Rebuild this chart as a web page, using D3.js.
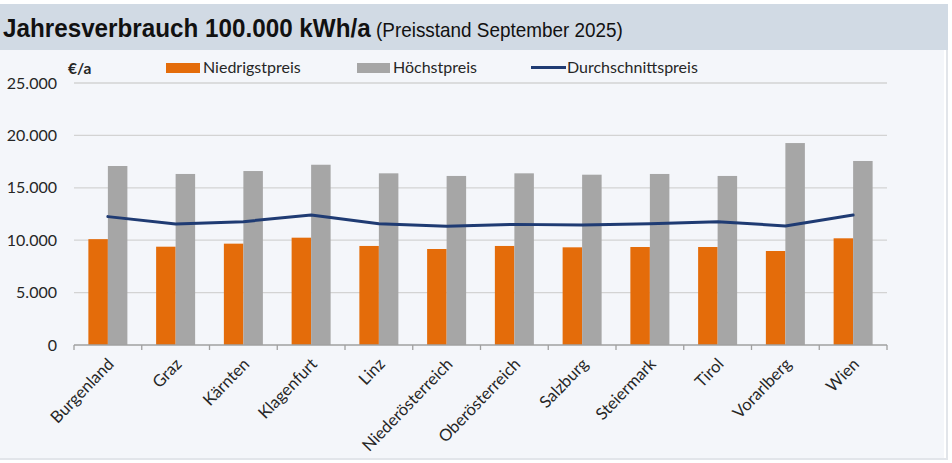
<!DOCTYPE html>
<html><head><meta charset="utf-8">
<script src="https://cdn.jsdelivr.net/npm/d3@7"></script>
<style>html,body{margin:0;padding:0;background:#fff;}svg{display:block;}</style>
</head><body>
<svg id="c" width="952" height="463"></svg>
<script>
const categories = ["Burgenland","Graz","Kärnten","Klagenfurt","Linz","Niederösterreich","Oberösterreich","Salzburg","Steiermark","Tirol","Vorarlberg","Wien"];
const niedrigstpreis = [10100, 9380, 9670, 10240, 9450, 9160, 9450, 9320, 9350, 9350, 8970, 10180];
const hoechstpreis = [17080, 16320, 16600, 17200, 16380, 16130, 16380, 16250, 16320, 16130, 19270, 17560];
const durchschnittspreis = [12250, 11550, 11770, 12400, 11580, 11320, 11510, 11450, 11580, 11770, 11360, 12400];
const yTicks = [0, 5000, 10000, 15000, 20000, 25000];
const seriesNames = ["Niedrigstpreis", "Höchstpreis", "Durchschnittspreis"];
const titleBold = "Jahresverbrauch 100.000 kWh/a";
const titleNormal = " (Preisstand September 2025)";
const unitLabel = "€/a";

const svg = d3.select("#c");
const W = 952, H = 463;
const pL = 74, pR = 887, pT = 83, pB = 345;
const cOrange = "#E46C0A", cGray = "#A6A6A6", cLine = "#1F3B73";
const font = "Lato, 'Open Sans', sans-serif";

svg.append("rect").attr("x",0).attr("y",0).attr("width",W).attr("height",H).attr("fill","#fff");
svg.append("rect").attr("x",0).attr("y",4).attr("width",948).attr("height",46).attr("fill","#D1DAE4");
svg.append("rect").attr("x",0).attr("y",50).attr("width",944).attr("height",408).attr("fill","#F4F6FA");
svg.append("line").attr("x1",947).attr("x2",947).attr("y1",50).attr("y2",458).attr("stroke","#E2E5EA").attr("stroke-width",2);
svg.append("line").attr("x1",0).attr("x2",948).attr("y1",459).attr("y2",459).attr("stroke","#E2E5EA").attr("stroke-width",2);

const t = svg.append("text").attr("transform","translate(3,37) scale(0.97,1)").attr("font-family","'Liberation Sans', Arial, sans-serif").attr("fill","#111");
t.append("tspan").attr("font-weight","bold").attr("font-size",25).text(titleBold);
t.append("tspan").attr("font-size",19.5).text(titleNormal);

const x0 = d3.scaleBand().domain(categories).range([pL, pR]).padding(0);
const x1 = d3.scaleBand().domain(["n","h"]).range([0, x0.step()]).paddingInner(0).paddingOuter(0.737);
const y = d3.scaleLinear().domain([0, 25000]).range([pB, pT]);

svg.append("g").selectAll("line").data(yTicks.filter(d=>d>0)).join("line")
  .attr("x1",pL).attr("x2",pR).attr("y1",d=>y(d)).attr("y2",d=>y(d))
  .attr("stroke","#D3D3D3").attr("stroke-width",1.3);

svg.append("g").selectAll("text").data(yTicks).join("text")
  .attr("x",57).attr("y",d=>y(d)+5.5).attr("text-anchor","end")
  .attr("font-family",font).attr("font-size",16).attr("fill","#262626")
  .text(d=>d3.format(",")(d).replace(/,/g,"."));

svg.append("text").attr("x",68).attr("y",74).attr("font-family",font).attr("font-weight","bold")
  .attr("font-size",15.5).attr("fill","#262626").text(unitLabel);

const g = svg.append("g");
categories.forEach((c,i)=>{
  g.append("rect").attr("x",x0(c)+x1("n")).attr("width",x1.bandwidth())
    .attr("y",y(niedrigstpreis[i])).attr("height",y(0)-y(niedrigstpreis[i])).attr("fill",cOrange);
  g.append("rect").attr("x",x0(c)+x1("h")).attr("width",x1.bandwidth())
    .attr("y",y(hoechstpreis[i])).attr("height",y(0)-y(hoechstpreis[i])).attr("fill",cGray);
});

svg.append("line").attr("x1",pL).attr("x2",pR).attr("y1",pB).attr("y2",pB).attr("stroke","#A0A0A0").attr("stroke-width",1.3);
const bounds = categories.map(c=>x0(c)).concat([pR]);
svg.append("g").selectAll("line").data(bounds).join("line")
  .attr("x1",d=>d).attr("x2",d=>d).attr("y1",pB).attr("y2",pB+5).attr("stroke","#A0A0A0").attr("stroke-width",1.3);

const line = d3.line().x((d,i)=>x0(categories[i])+x0.step()/2).y(d=>y(d));
svg.append("path").datum(durchschnittspreis).attr("d",line).attr("fill","none")
  .attr("stroke",cLine).attr("stroke-width",3).attr("stroke-linejoin","round").attr("stroke-linecap","round");

svg.append("g").selectAll("text").data(categories).join("text")
  .attr("transform",c=>`translate(${x0(c)+x0.step()/2+7},${pB+20}) rotate(-46)`)
  .attr("text-anchor","end").attr("font-family",font).attr("font-size",16.5).attr("fill","#262626")
  .text(d=>d);

const lg = svg.append("g");
lg.append("rect").attr("x",166).attr("y",63).attr("width",34).attr("height",10).attr("fill",cOrange);
lg.append("text").attr("x",203).attr("y",73).attr("font-family",font).attr("font-size",16).attr("fill","#262626").text(seriesNames[0]);
lg.append("rect").attr("x",357).attr("y",63).attr("width",33).attr("height",10).attr("fill",cGray);
lg.append("text").attr("x",393).attr("y",73).attr("font-family",font).attr("font-size",16).attr("fill","#262626").text(seriesNames[1]);
lg.append("line").attr("x1",531).attr("x2",566).attr("y1",67.5).attr("y2",67.5).attr("stroke",cLine).attr("stroke-width",3);
lg.append("text").attr("x",567).attr("y",73).attr("font-family",font).attr("font-size",16).attr("fill","#262626").text(seriesNames[2]);
</script>
</body></html>
